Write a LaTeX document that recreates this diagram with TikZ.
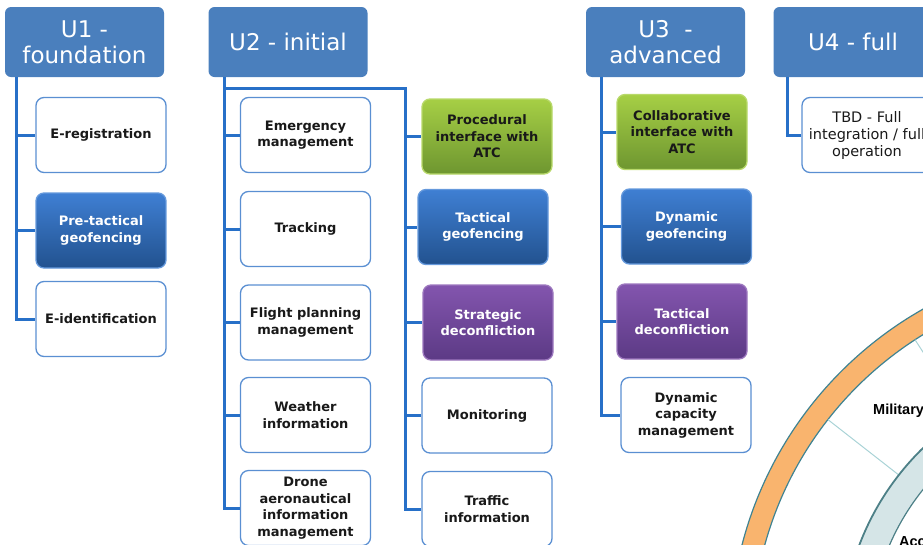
\documentclass[tikz,border=0pt]{standalone}
\usepackage{fontspec}
\setmainfont{DejaVu Sans}
\newfontfamily\mapfont{Liberation Sans}
\usepackage{tikz}

\definecolor{hdrblue}{HTML}{4A7FBD}
\definecolor{linkblue}{HTML}{2770C8}
\definecolor{boxline}{HTML}{5A8FD2}
\definecolor{btop}{HTML}{3F7FD3}
\definecolor{bbot}{HTML}{22528F}
\definecolor{gtop}{HTML}{A6CF45}
\definecolor{gbot}{HTML}{6E9630}
\definecolor{ptop}{HTML}{8355AE}
\definecolor{pbot}{HTML}{5C3A85}
\definecolor{ringorange}{HTML}{F9B46E}
\definecolor{ringedge}{HTML}{3F8392}
\definecolor{ringlight}{HTML}{D5E5E7}
\definecolor{innedge}{HTML}{4D8087}
\definecolor{spokecol}{HTML}{A9D3D6}

\tikzset{
  phase/.style={fill=hdrblue, text=white, rounded corners=6pt,
    minimum width=159pt, minimum height=70pt, inner sep=0pt,
    align=center, font=\fontsize{23}{26}\selectfont},
  service/.style={rounded corners=8pt, minimum width=130pt, minimum height=75pt,
    inner sep=2pt, line width=1.3pt, align=center,
    font=\bfseries\fontsize{13}{16.5}\selectfont},
  whitebox/.style={service, draw=boxline, fill=white, text=black!90},
  bluebox/.style={service, draw=btop!80!white, top color=btop, bottom color=bbot, text=white},
  greenbox/.style={service, draw=gtop!80!white, top color=gtop, bottom color=gbot, text=black!90},
  purplebox/.style={service, draw=ptop!80!white, top color=ptop, bottom color=pbot, text=white},
  link/.style={draw=linkblue, line width=3pt},
  spoke/.style={draw=spokecol, line width=1pt}
}

\begin{document}
\begin{tikzpicture}[x=1pt,y=-1pt]
  \useasboundingbox (0,0) rectangle (923,544);
  \clip (0,0) rectangle (923,544);

  % airspace rings (background, lower right)
  \coordinate (hub) at (1110,640);
  \fill[ringorange, even odd rule] (hub) circle[radius=380pt] (hub) circle[radius=358pt];
  \draw[ringedge, line width=1.2pt] (hub) circle[radius=380pt] (hub) circle[radius=358pt];
  \draw[spoke] ([shift={(hub)}]218:268) -- ([shift={(hub)}]218:358);
  \draw[spoke] ([shift={(hub)}]237:268) -- ([shift={(hub)}]237:358);
  \fill[ringlight, even odd rule] (hub) circle[radius=268pt] (hub) circle[radius=240pt];
  \draw[innedge, line width=1.8pt] (hub) circle[radius=268pt];
  \draw[innedge, line width=1.2pt] (hub) circle[radius=240pt];
  \node[anchor=west, inner sep=0pt, font=\mapfont\bfseries\fontsize{14.5}{16}\selectfont]
    (military) at (873,411) {Military};
  \node[anchor=north west, inner sep=0pt, font=\mapfont\bfseries\fontsize{14.5}{16}\selectfont]
    (access) at (899,536) {Access};

  % phase headers
  \node[phase] (u1) at (84.5,42) {U1 -\\foundation};
  \node[phase] (u2) at (288,42) {U2 - initial};
  \node[phase] (u3) at (665.5,42) {U3 \ -\\advanced};
  \node[phase] (u4) at (853,42) {U4 - full};

  % U1 services
  \node[whitebox] (ereg) at (101,135) {E-registration};
  \node[bluebox] (pregeo) at (101,230.5) {Pre-tactical\\geofencing};
  \node[whitebox] (eident) at (101,319) {E-identification};

  % U2 services, left column
  \node[whitebox] (emerg) at (305.5,135) {Emergency\\management};
  \node[whitebox] (track) at (305.5,229) {Tracking};
  \node[whitebox] (flight) at (305.5,322.5) {Flight planning\\management};
  \node[whitebox] (weather) at (305.5,415) {Weather\\information};
  \node[whitebox] (drone) at (305.5,508) {Drone\\aeronautical\\information\\management};

  % U2 services, right column
  \node[greenbox] (procatc) at (487,136.5) {Procedural\\interface with\\ATC};
  \node[bluebox] (tacgeo) at (483,227) {Tactical\\geofencing};
  \node[purplebox] (stratdc) at (488,322.5) {Strategic\\deconfliction};
  \node[whitebox] (monitor) at (487,415.5) {Monitoring};
  \node[whitebox] (traffic) at (487,509) {Traffic\\information};

  % U3 services
  \node[greenbox] (collatc) at (682,132) {Collaborative\\interface with\\ATC};
  \node[bluebox] (dyngeo) at (686.5,226.5) {Dynamic\\geofencing};
  \node[purplebox] (tacdc) at (682,321.5) {Tactical\\deconfliction};
  \node[whitebox] (dyncap) at (686,415) {Dynamic\\capacity\\management};

  % U4 services
  \node[whitebox, font=\fontsize{14.5}{17}\selectfont] (tbd) at (867,135)
    {TBD - Full\\integration / full\\operation};

  % connectors
  \draw[link] ([xshift=12pt]u1.south west) |- (ereg.west);
  \draw[link] ([xshift=12pt]u1.south west) |- (pregeo.west);
  \draw[link] ([xshift=12pt]u1.south west) |- (eident.west);

  \draw[link] ([xshift=16pt]u2.south west) |- (emerg.west);
  \draw[link] ([xshift=16pt]u2.south west) |- (track.west);
  \draw[link] ([xshift=16pt]u2.south west) |- (flight.west);
  \draw[link] ([xshift=16pt]u2.south west) |- (weather.west);
  \draw[link] ([xshift=16pt]u2.south west) |- (drone.west);
  \coordinate (u2bus) at (226,88);
  \coordinate (u2drop) at (405,88);
  \draw[link] (u2bus) -- (u2drop) |- (traffic.west);
  \draw[link] (u2drop) |- (procatc.west);
  \draw[link] (u2drop) |- (tacgeo.west);
  \draw[link] (u2drop) |- (stratdc.west);
  \draw[link] (u2drop) |- (monitor.west);

  \draw[link] ([xshift=16pt]u3.south west) |- (collatc.west);
  \draw[link] ([xshift=16pt]u3.south west) |- (dyngeo.west);
  \draw[link] ([xshift=16pt]u3.south west) |- (tacdc.west);
  \draw[link] ([xshift=16pt]u3.south west) |- (dyncap.west);

  \draw[link] ([xshift=14pt]u4.south west) |- (tbd.west);
\end{tikzpicture}
\end{document}
